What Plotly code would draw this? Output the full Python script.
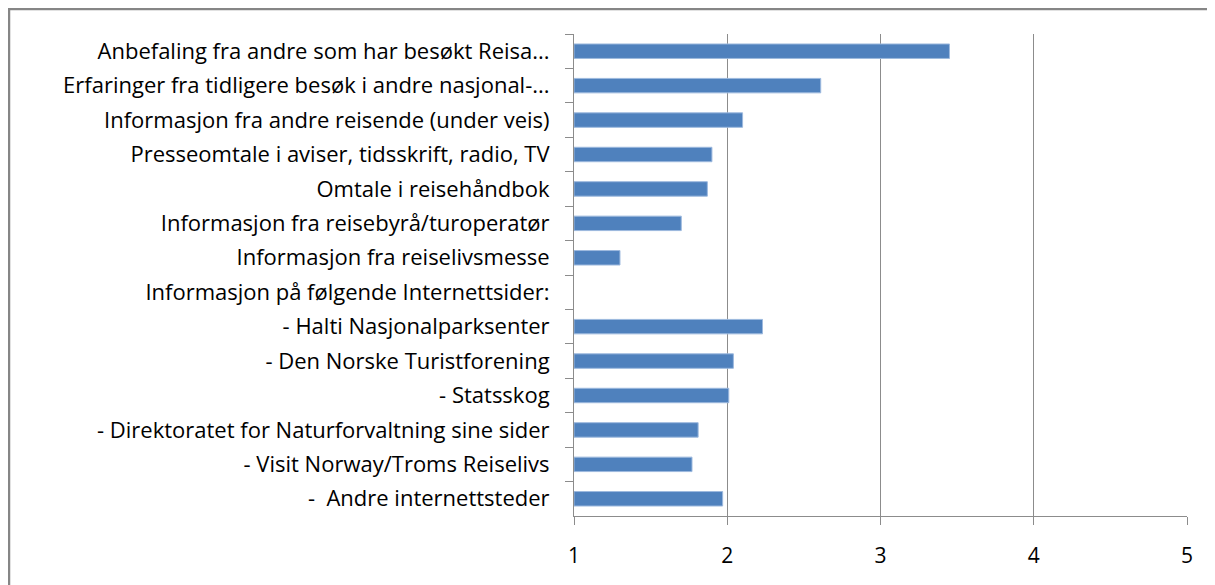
import plotly.graph_objects as go

categories = [
    "Anbefaling fra andre som har besøkt Reisa...",
    "Erfaringer fra tidligere besøk i andre nasjonal-...",
    "Informasjon fra andre reisende (under veis)",
    "Presseomtale i aviser, tidsskrift, radio, TV",
    "Omtale i reisehåndbok",
    "Informasjon fra reisebyrå/turoperatør",
    "Informasjon fra reiselivsmesse",
    "Informasjon på følgende Internettsider:",
    "- Halti Nasjonalparksenter",
    "- Den Norske Turistforening",
    "- Statsskog",
    "- Direktoratet for Naturforvaltning sine sider",
    "- Visit Norway/Troms Reiselivs",
    "-  Andre internettsteder",
]
values = [3.45, 2.61, 2.10, 1.90, 1.87, 1.70, 1.30, None, 2.23, 2.04, 2.01, 1.81, 1.77, 1.97]
x_ticks = [1, 2, 3, 4, 5]

W, H = 1207, 577
L, R, T, B = 566, 28, 26, 69
PW, PH = W - L - R, H - T - B

base = 1
fig = go.Figure()
fig.add_trace(go.Bar(
    y=categories,
    x=[None if v is None else v - base for v in values],
    base=base,
    orientation="h",
    width=0.42,
    marker=dict(color="#4F81BD", line=dict(color="#9DB9DE", width=1)),
    hoverinfo="skip",
))

fig.update_layout(
    width=W, height=H,
    margin=dict(l=L, r=R, t=T, b=B),
    paper_bgcolor="white", plot_bgcolor="white",
    showlegend=False,
    font=dict(family="'Open Sans', 'Noto Sans', sans-serif", size=20, color="#000000"),
)
fig.update_xaxes(
    range=[1, 5], tickvals=x_ticks, ticktext=[str(t) for t in x_ticks],
    showgrid=True, gridcolor="#8C8C8C", gridwidth=1,
    showline=True, linecolor="#8C8C8C", linewidth=1,
    ticks="outside", ticklen=8, tickcolor="#8C8C8C",
    zeroline=False, ticklabelstandoff=13,
    tickfont=dict(size=21),
)
fig.update_yaxes(
    categoryorder="array", categoryarray=categories, autorange="reversed",
    showline=True, linecolor="#8C8C8C", linewidth=1,
    ticks="outside", ticklen=8, tickcolor="#8C8C8C", tickson="boundaries",
    showgrid=False, ticklabelstandoff=19,
    tickfont=dict(size=22),
)
fig.add_shape(type="rect", xref="paper", yref="paper",
              x0=(1 - L) / PW, x1=1 + 200 / PW, y0=-(B + 100) / PH, y1=1 + (T - 1) / PH,
              line=dict(color="#868686", width=2.5), fillcolor="rgba(0,0,0,0)", layer="below")
fig.write_html("out.html")
